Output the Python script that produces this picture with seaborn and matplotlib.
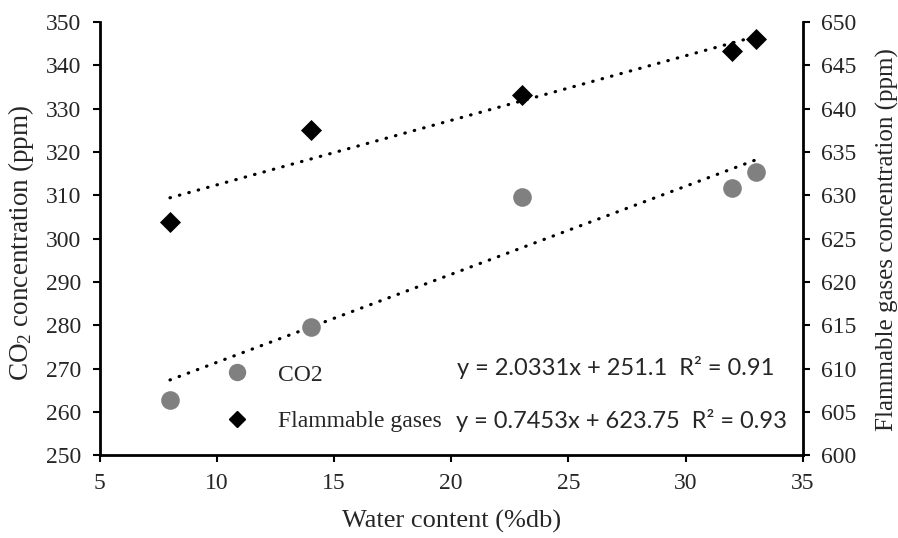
import numpy as np
import pandas as pd
import matplotlib
matplotlib.use("Agg")
import matplotlib.pyplot as plt
import seaborn as sns
from matplotlib.lines import Line2D

# ---- data ----
water = [8, 14, 23, 32, 33]
co2 = [262.8, 279.5, 309.5, 311.6, 315.4]
flammable = [626.9, 637.5, 641.6, 646.7, 648.0]
slopes = [2.0331, 0.7453]
intercepts = [251.1, 623.75]
r2 = [0.91, 0.93]
series_names = ["CO2", "Flammable gases"]
x_ticks = [5, 10, 15, 20, 25, 30, 35]
left_ticks = [250, 260, 270, 280, 290, 300, 310, 320, 330, 340, 350]
right_ticks = [600, 605, 610, 615, 620, 625, 630, 635, 640, 645, 650]

sns.set_style("white")
plt.rcParams["font.family"] = ["Liberation Serif", "DejaVu Serif"]
plt.rcParams["mathtext.fontset"] = "custom"
plt.rcParams["mathtext.rm"] = "Liberation Serif"
plt.rcParams["mathtext.it"] = "Liberation Serif:italic"

df = pd.DataFrame({"water": water, "co2": co2, "flammable": flammable})

fig = plt.figure(figsize=(8.98, 5.38), dpi=100)
ax = fig.add_axes([0.111, 0.154, 0.783, 0.805])
ax2 = ax.twinx()

sns.scatterplot(data=df, x="water", y="co2", ax=ax, color="#808080", marker="o",
                s=180, linewidth=0, zorder=3)
sns.scatterplot(data=df, x="water", y="flammable", ax=ax2, color="black", marker="D",
                s=115, linewidth=0, zorder=3)

# trend lines from the fitted equations
xs = np.array([min(water), max(water)])
tl1 = pd.DataFrame({"x": xs, "y": slopes[0] * xs + intercepts[0]})
tl2 = pd.DataFrame({"x": xs, "y": slopes[1] * xs + intercepts[1]})
dot = (0, (0.15, 2.9))
sns.lineplot(data=tl1, x="x", y="y", ax=ax, color="black", linestyle=dot,
             linewidth=2.3, dash_capstyle="round", zorder=2)
sns.lineplot(data=tl2, x="x", y="y", ax=ax2, color="black", linestyle=dot,
             linewidth=2.3, dash_capstyle="round", zorder=2)

ax.set_xlim(5, 35)
ax.set_ylim(250, 350)
ax2.set_ylim(600, 650)
ax.set_xticks(x_ticks)
ax.set_yticks(left_ticks)
ax2.set_yticks(right_ticks)

fs = 17
ax.set_xlabel("Water content (%db)", fontsize=19)
ax.set_ylabel("CO$_2$ concentration (ppm)", fontsize=19.5)
ax2.set_ylabel("Flammable gases concentration (ppm)", fontsize=18)
ax.xaxis.set_label_coords(0.501, -0.127)
ax.yaxis.set_label_coords(-0.091, 0.49)
ax2.yaxis.set_label_coords(1.104, 0.497)

for a in (ax, ax2):
    a.tick_params(axis="both", labelsize=fs, direction="out", length=5, width=1.5,
                  color="black", pad=8)
    a.spines["top"].set_visible(False)
    for side in ["left", "right", "bottom"]:
        a.spines[side].set_linewidth(2)
        a.spines[side].set_color("black")
ax.tick_params(axis="y", left=True, right=False)
ax.tick_params(axis="x", bottom=True)
ax2.tick_params(axis="y", right=True, left=False)
ax.spines["right"].set_visible(False)
ax2.spines["left"].set_visible(False)
ax2.spines["bottom"].set_visible(False)

handles = [
    Line2D([], [], linestyle="none", marker="o", color="#808080", markersize=11.5),
    Line2D([], [], linestyle="none", marker="D", color="black", markersize=8),
]
ax.legend(handles, series_names, loc="center left", bbox_to_anchor=(0.178, 0.132),
          frameon=False, fontsize=fs, handlelength=1.0, handletextpad=1.24,
          labelspacing=1.05, borderaxespad=0, borderpad=0)

eq_font = ["Lato", "DejaVu Sans"]
ax.text(0.960, 0.203, f"y = {slopes[0]}x + {intercepts[0]}  R² = {r2[0]}",
        transform=ax.transAxes, ha="right", va="center", fontsize=17, family=eq_font)
ax.text(0.977, 0.081, f"y = {slopes[1]}x + {intercepts[1]}  R² = {r2[1]}",
        transform=ax.transAxes, ha="right", va="center", fontsize=17, family=eq_font)

fig.savefig("out.png", dpi=100)
